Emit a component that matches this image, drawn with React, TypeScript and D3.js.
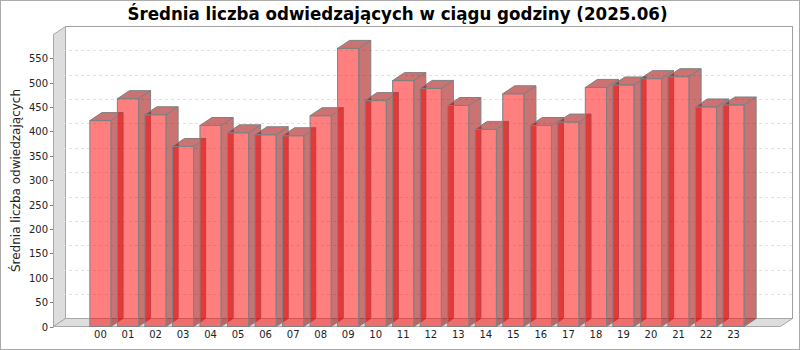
import React from "react";
import * as d3 from "d3";

const title = "Średnia liczba odwiedzających w ciągu godziny (2025.06)";
const yLabel = "Średnia liczba odwiedzających";
const hours = ["00","01","02","03","04","05","06","07","08","09","10","11","12","13","14","15","16","17","18","19","20","21","22","23"];
const visitors = [422,467,434,369,412,397,393,391,432,570,463,504,488,453,404,477,412,419,490,495,508,512,450,454];
const yTicks = [0,50,100,150,200,250,300,350,400,450,500,550];

const W = 800, H = 350;
const fl = 53.5, fr = 780.5, ft = 34.5, fb = 326.5;
const dx = 12, dy = 8;
const font = "'DejaVu Sans', Verdana, sans-serif";

export default function App() {
  const yMax = (d3.max(visitors) as number) * 1.05;
  const y = d3.scaleLinear().domain([0, yMax]).range([fb, ft]);
  const x = d3.scaleBand<string>().domain(hours).range([fl, fr])
    .paddingInner(0.22967).paddingOuter(1.3206);
  const bw = x.bandwidth();
  const y0 = y(0);

  const wall = `M${fl},${ft} L${fl+dx},${ft-dy} L${fl+dx},${fb-dy} L${fl},${fb} Z`;
  const floor = `M${fl},${fb} L${fl+dx},${fb-dy} L${fr+dx},${fb-dy} L${fr},${fb} Z`;

  return (
    <svg width={W} height={H} style={{ position: "absolute", left: 0, top: 0, background: "#fff" }}
      xmlns="http://www.w3.org/2000/svg">
      <rect x={0.5} y={0.5} width={W-1} height={H-1} fill="#fff" stroke="#ababab" />
      <text x={397.5} y={20} textAnchor="middle" fontFamily={font} fontWeight="bold" fontSize={18}
        textLength={540} lengthAdjust="spacingAndGlyphs" fill="#000">{title}</text>

      {/* back wall */}
      <rect x={fl+dx} y={ft-dy} width={fr-fl} height={fb-ft} fill="#fff" stroke="#a0a0a0" />
      <path d={wall} fill="#dddddd" stroke="#a8a8a8" />
      <path d={floor} fill="#dddddd" stroke="#a8a8a8" />

      {/* gridlines */}
      {yTicks.filter(t => t > 0).map(t => {
        const yy = Math.round(y(t)) + 0.5;
        return (
          <path key={t} d={`M${fl},${yy} L${fl+dx},${yy-dy} L${fr+dx},${yy-dy}`} fill="none"
            stroke="#e0e0e0" strokeWidth={1} strokeDasharray="3,3" />
        );
      })}

      {/* y ticks */}
      {yTicks.map(t => {
        const yy = Math.round(y(t)) + 0.5;
        return (
          <g key={t}>
            <line x1={50} x2={fl} y1={yy} y2={yy} stroke="#808080" />
            <text x={48} y={yy + 3.5} textAnchor="end" fontFamily={font} fontSize={10} fill="#222">{t}</text>
          </g>
        );
      })}
      <text transform={`translate(20,${(ft+fb)/2}) rotate(-90)`} textAnchor="middle" fontFamily={font}
        fontSize={12} fill="#222">{yLabel}</text>

      {/* bars */}
      {hours.map((h, i) => {
        const bx = x(h) as number;
        const yt = y(visitors[i]);
        const side = `M${bx+bw},${yt} L${bx+bw+dx},${yt-dy} L${bx+bw+dx},${y0-dy} L${bx+bw},${y0} Z`;
        const top = `M${bx},${yt} L${bx+dx},${yt-dy} L${bx+bw+dx},${yt-dy} L${bx+bw},${yt} Z`;
        return (
          <g key={h}>
            <rect x={bx} y={yt} width={bw} height={y0 - yt} fill="rgba(255,0,0,0.5)" />
            <path d={side} fill="rgba(160,0,0,0.55)" />
            <path d={top} fill="rgba(160,0,0,0.55)" />
            <rect x={bx} y={yt} width={bw} height={y0 - yt} fill="none" stroke="#808080" />
            <path d={side} fill="none" stroke="#808080" />
            <path d={top} fill="none" stroke="#808080" />
          </g>
        );
      })}

      {/* x labels */}
      {hours.map(h => (
        <text key={h} x={(x(h) as number) + bw / 2} y={338} textAnchor="middle" fontFamily={font}
          fontSize={10} fill="#222">{h}</text>
      ))}
    </svg>
  );
}
